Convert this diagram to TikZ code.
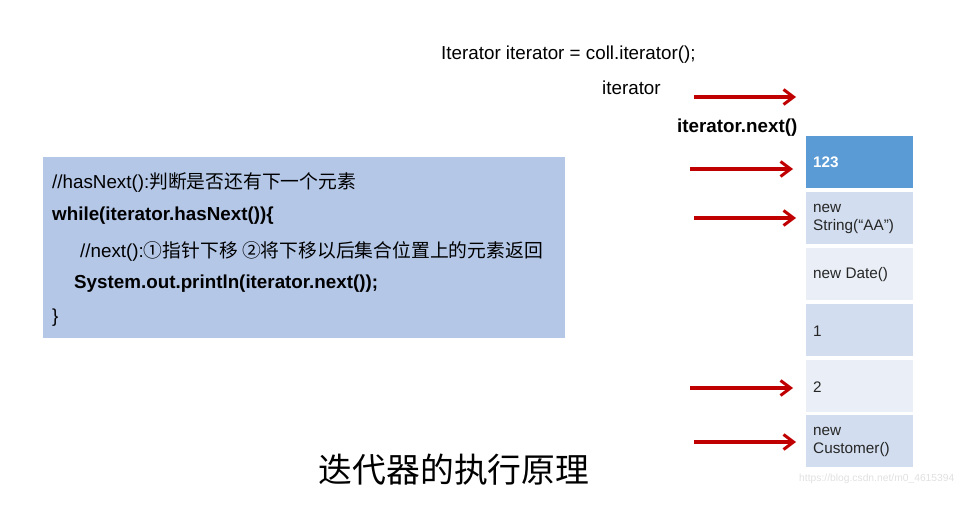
\documentclass[tikz,border=0pt]{standalone}
\usepackage{fontspec}
\setmainfont{Liberation Sans}
\newfontfamily\cjk{Noto Sans CJK SC}
\usetikzlibrary{arrows.meta,positioning}
\definecolor{boxblue}{HTML}{B4C7E7}
\definecolor{headblue}{HTML}{5B9BD5}
\definecolor{rowdark}{HTML}{D2DEEF}
\definecolor{rowlight}{HTML}{EAEFF7}
\definecolor{arrowred}{HTML}{C00000}
\tikzset{
  cell/.style={minimum width=107pt,minimum height=52pt,inner sep=0pt,anchor=north west},
  celltext/.style={anchor=west,align=left,font=\fontsize{15.3}{18}\selectfont,text=black!85,inner sep=0pt},
  redarrow/.style={draw=arrowred,line width=3.2pt,-{Straight Barb[length=10pt,width=15pt,line width=3pt]}},
  codeline/.style={anchor=west,inner sep=0pt,font=\fontsize{18.8}{22}\selectfont},
  plain/.style={inner sep=0pt,font=\fontsize{18.8}{22}\selectfont}
}
\begin{document}
\begin{tikzpicture}[x=1pt,y=-1pt]
\useasboundingbox (0,0) rectangle (962,524);
% code box
\node[fill=boxblue,minimum width=522pt,minimum height=181pt,anchor=north west,inner sep=0pt] (code) at (43,157) {};
\node[codeline] (l1) at (52,183) {//hasNext():{\cjk 判断是否还有下一个元素}};
\node[codeline,font=\fontsize{18.8}{22}\selectfont\bfseries] (l2) at (52,216) {while(iterator.hasNext()){\{}};
\node[codeline] (l3) at (80,251) {//next():{\cjk ①指针下移 ②将下移以后集合位置上的元素返回}};
\node[codeline,font=\fontsize{18.8}{22}\selectfont\bfseries] (l4) at (74,284) {System.out.println(iterator.next());};
\node[codeline] (l5) at (52,318) {\}};
% top texts
\node[plain,anchor=west] (decl) at (441,55) {Iterator iterator = coll.iterator();};
\node[plain,anchor=west] (itname) at (602,88) {iterator};
\node[plain,anchor=west,font=\fontsize{18.8}{22}\selectfont\bfseries] (nextlbl) at (677,128) {iterator.next()};
% cells
\node[cell,fill=headblue] (c0) at (806,136) {};
\node[cell,fill=rowdark] (c1) at (806,192) {};
\node[cell,fill=rowlight] (c2) at (806,248) {};
\node[cell,fill=rowdark] (c3) at (806,304) {};
\node[cell,fill=rowlight] (c4) at (806,360) {};
\node[cell,fill=rowdark] (c5) at (806,415) {};
\node[celltext,text=white,font=\fontsize{15.3}{18}\selectfont\bfseries] (t0) at (813,162) {123};
\node[celltext] (t1) at (813,219) {new\\String(“AA”)};
\node[celltext] (t2) at (813,275) {new Date()};
\node[celltext] (t3) at (813,331) {1};
\node[celltext] (t4) at (813,387) {2};
\node[celltext] (t5) at (813,442) {new\\Customer()};
% arrows
\coordinate (a0s) at (694,97);
\coordinate (a0e) at (796,97);
\coordinate (a1s) at (690,169);
\coordinate (a2s) at (694,218);
\coordinate (a4s) at (690,388);
\coordinate (a5s) at (694,442);
\draw[redarrow] (a0s) -- (a0e);
\draw[redarrow] (a1s) -- ([xshift=-13pt]a1s -| c0.west);
\draw[redarrow] (a2s) -- ([xshift=-10pt]a2s -| c1.west);
\draw[redarrow] (a4s) -- ([xshift=-13pt]a4s -| c4.west);
\draw[redarrow] (a5s) -- ([xshift=-10pt]a5s -| c5.west);
% title
\node[inner sep=0pt,font=\cjk\fontsize{33.8}{38}\selectfont] (title) at (454,470) {迭代器的执行原理};
% watermark
\node[inner sep=0pt,anchor=west,text=black!12,font=\fontsize{10.3}{12}\selectfont] (wm) at (799,479) {https://blog.csdn.net/m0\_4615394};
\end{tikzpicture}
\end{document}
